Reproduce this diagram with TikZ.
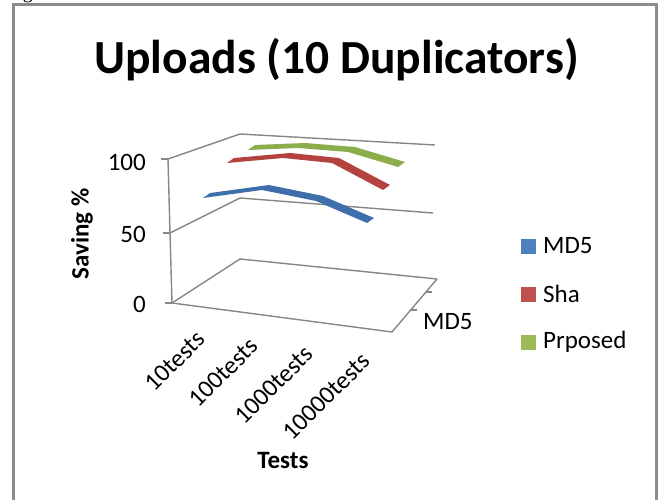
\documentclass[tikz,border=0pt]{standalone}
\usepackage{fontspec}
\setmainfont{Carlito}
\newfontfamily\serifcut{Liberation Serif}
\definecolor{gridgray}{HTML}{868686}
\definecolor{framegray}{HTML}{8C8C8C}
\definecolor{ribblue}{HTML}{3F6FAA}
\definecolor{ribred}{HTML}{B4433F}
\definecolor{ribgreen}{HTML}{8BAD4A}
\definecolor{legblue}{HTML}{4F81BD}
\definecolor{legred}{HTML}{C0504D}
\definecolor{leggreen}{HTML}{9BBB59}
\begin{document}
\begin{tikzpicture}[x=1pt,y=-1pt,
  gridline/.style={draw=gridgray, line width=1.4pt, line join=round},
  lbl/.style={font=\fontsize{25}{25}\selectfont, inner sep=0pt},
  blbl/.style={font=\fontsize{25}{25}\selectfont\bfseries, inner sep=0pt},
  catlbl/.style={font=\fontsize{25}{25}\selectfont, inner sep=0pt, rotate=45, anchor=east},
  legsq/.style={minimum size=15pt, inner sep=0pt}]
\useasboundingbox (0,0) rectangle (664,500);
\begin{scope}
\clip (0,0) rectangle (664,500);
% clipped glyph fragment at the very top
\node[font=\serifcut\fontsize{20}{20}\selectfont, anchor=base, inner sep=0pt] (gfrag) at (28,-1) {g};
% frame
\draw[framegray, line width=2.6pt] (13.3,515) -- (13.3,4.5) -- (656.3,4.5) -- (656.3,515);
\end{scope}
% title
\node[font=\fontsize{47.5}{47.5}\selectfont\bfseries, anchor=base, inner sep=0pt] (title) at (336.5,74) {Uploads (10 Duplicators)};
% axis corner coordinates
\coordinate (a100) at (168,159);
\coordinate (a50) at (170,233);
\coordinate (a0) at (172,303);
\coordinate (b100) at (240,134);
\coordinate (b50) at (240,198);
\coordinate (b0) at (240,259);
\coordinate (r100) at (435,145);
\coordinate (r50) at (433,213);
\coordinate (r0) at (437,279);
\coordinate (f1) at (392,332);
% gridlines and walls
\draw[gridline] (a100) -- (b100) -- (r100);
\draw[gridline] (a50) -- (b50) -- (r50);
\draw[gridline] (a0) -- (b0) -- (r0);
\draw[gridline] (a0) -- (f1) -- (r0);
\draw[gridline] (a100) -- (a50) -- (a0);
% value ticks
\draw[gridline] (a100) -- ++(-7,0);
\draw[gridline] (a50) -- ++(-7,0);
\draw[gridline] (a0) -- ++(-7,0);
% depth ticks
\draw[gridline] (411,310) -- ++(6,0);
\draw[gridline] (426,292) -- ++(6,0);
% ribbons
\fill[ribgreen] (248,150) -- (298,148) -- (348,152) -- (398,167) -- (405,162) -- (355,147) -- (305,143) -- (255,145) -- cycle;
\fill[ribred] (227,163) -- (283,158) -- (332,163) -- (383,190) -- (390,185) -- (339,158) -- (290,153) -- (234,158) -- cycle;
\fill[ribblue] (203,198) -- (262,190) -- (316,201) -- (367,223) -- (374,218) -- (323,196) -- (269,185) -- (210,193) -- cycle;
% value labels
\node[lbl, anchor=east] (v100) at (146,162) {100};
\node[lbl, anchor=east] (v50) at (146,234) {50};
\node[lbl, anchor=east] (v0) at (146,304) {0};
\node[blbl, rotate=90] (ytitle) at (82,234) {Saving \%};
% category labels
\node[catlbl] (c1) at (201,335) {10tests};
\node[catlbl] (c2) at (254,342) {100tests};
\node[catlbl] (c3) at (309,350) {1000tests};
\node[catlbl] (c4) at (366,357) {10000tests};
\node[blbl] (xtitle) at (283,460) {Tests};
% depth label
\node[lbl, anchor=west] (dlbl) at (423,322) {MD5};
% legend
\node[legsq, fill=legblue] (sq1) at (528.5,246) {};
\node[legsq, fill=legred] (sq2) at (528.5,294) {};
\node[legsq, fill=leggreen] (sq3) at (528.5,342) {};
\node[lbl, anchor=west] (l1) at (543,246) {MD5};
\node[lbl, anchor=west] (l2) at (543,294) {Sha};
\node[lbl, anchor=west] (l3) at (543,342) {Prposed};
\end{tikzpicture}
\end{document}
